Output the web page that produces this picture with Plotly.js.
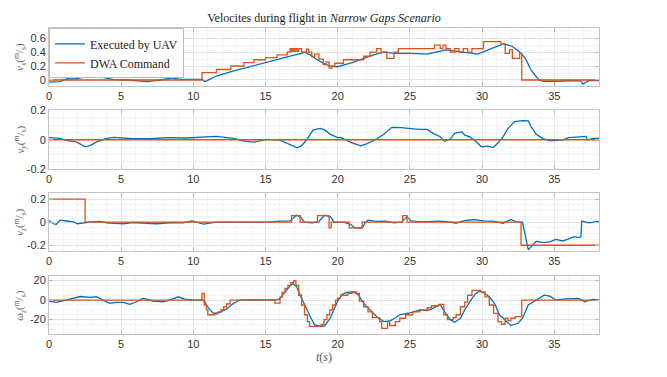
<!DOCTYPE html>
<html>
<head>
<meta charset="utf-8">
<script src="https://cdn.plot.ly/plotly-3.0.1.min.js"></script>
<style>
  html, body { margin: 0; padding: 0; background: #fff; }
  #plot { width: 667px; height: 377px; }
</style>
</head>
<body>
<div id="plot"></div>
<script>
// v_x
var tVxUav = [0, 0.76, 1.2, 1.9, 2.84, 3.2, 3.8, 4.5, 5.4, 6.3, 6.8, 7.7, 8.5, 9.1, 10.0, 10.6, 10.8, 11.6, 12.8, 13.7, 14.2, 15.1, 16.0, 16.7, 17.5, 17.7, 18.1, 18.5, 19.1, 19.5, 20.0, 21.0, 21.8, 22.8, 23.3, 23.9, 25.0, 26.2, 27.5, 28.7, 29.4, 29.7, 30.3, 31.0, 31.5, 32.1, 32.6, 33.0, 33.4, 33.9, 34.2, 35.0, 35.6, 36.5, 36.8, 37.0, 37.4, 38.1];
var vxUav = [-0.03, -0.024, 0.014, 0.02, 0.057, 0.067, 0.033, 0.005, 0, -0.02, -0.024, 0, 0.03, 0.01, 0.014, 0.01, -0.024, 0.057, 0.13, 0.18, 0.21, 0.26, 0.30, 0.34, 0.38, 0.40, 0.36, 0.30, 0.23, 0.20, 0.19, 0.25, 0.31, 0.38, 0.40, 0.38, 0.38, 0.37, 0.43, 0.40, 0.38, 0.37, 0.42, 0.48, 0.52, 0.48, 0.40, 0.31, 0.14, 0.01, -0.02, -0.02, -0.02, -0.01, -0.01, -0.06, -0.01, -0.01];
var tVxCmd = [0, 10.6, 11.6, 12.6, 13.5, 14.2, 15.0, 15.8, 16.5, 16.7, 16.8, 16.9, 17.0, 17.1, 17.2, 17.3, 17.5, 17.85, 18.0, 18.2, 18.4, 18.7, 19.0, 19.2, 19.4, 19.6, 19.8, 20.4, 21.8, 22.25, 22.7, 23.0, 23.4, 23.9, 24.2, 26.7, 27.1, 27.3, 27.5, 27.8, 28.1, 28.4, 28.7, 29.0, 29.3, 30.1, 31.3, 31.6, 31.9, 32.1, 32.6, 32.75, 38.1];
var vxCmd = [0, 0.105, 0.15, 0.2, 0.25, 0.29, 0.32, 0.36, 0.40, 0.45, 0.41, 0.45, 0.41, 0.45, 0.41, 0.45, 0.40, 0.44, 0.40, 0.33, 0.37, 0.30, 0.22, 0.26, 0.17, 0.2, 0.24, 0.29, 0.34, 0.40, 0.45, 0.40, 0.31, 0.40, 0.45, 0.50, 0.45, 0.50, 0.45, 0.40, 0.45, 0.40, 0.45, 0.40, 0.45, 0.55, 0.51, 0.38, 0.43, 0.31, 0.38, 0, 0];

// v_y
var tVyUav = [0, 0.76, 1.2, 1.9, 2.5, 2.84, 3.3, 4.0, 4.5, 5.8, 7.0, 8.15, 9.5, 10.5, 11.6, 12.8, 13.5, 14.2, 15.1, 16.0, 16.5, 17.2, 17.5, 17.85, 18.3, 18.8, 19.1, 19.5, 20.0, 20.2, 20.9, 21.6, 22.0, 22.6, 23.2, 23.75, 24.4, 25.1, 25.6, 26.2, 26.6, 27.1, 27.4, 27.8, 28.1, 28.6, 28.8, 29.15, 29.6, 29.95, 30.4, 30.75, 31.0, 31.45, 31.8, 32.25, 32.8, 33.2, 33.4, 33.75, 34.2, 34.7, 35.6, 36.0, 36.6, 37.2, 37.3, 37.65, 38.1];
var vyUav = [0.014, 0.01, -0.005, -0.015, -0.048, -0.04, -0.015, 0.01, 0.016, 0.007, 0.007, 0.014, 0.012, 0.016, 0.023, 0.009, -0.01, -0.016, 0.002, -0.002, -0.025, -0.055, -0.04, 0, 0.067, 0.078, 0.067, 0.037, 0.014, 0.016, -0.018, -0.041, -0.028, 0, 0.037, 0.085, 0.083, 0.074, 0.071, 0.071, 0.044, 0.021, -0.01, 0.005, 0.044, 0.055, 0.032, 0.02, -0.014, -0.048, -0.043, -0.053, -0.032, 0.02, 0.078, 0.124, 0.131, 0.129, 0.09, 0.037, 0.01, -0.007, 0, 0.014, 0.02, 0.023, -0.002, 0.009, 0.009];
var tVyCmd = [0, 38.1];
var vyCmd = [0, 0];

// v_z
var tVzUav = [0, 0.3, 0.5, 0.76, 1.2, 1.7, 1.96, 2.4, 2.84, 3.5, 4.0, 4.57, 5.15, 5.8, 6.5, 7.46, 8.6, 9.3, 9.9, 10.7, 11.6, 12.8, 13.9, 15.1, 16.0, 16.7, 17.15, 17.4, 17.7, 18.2, 18.65, 19.1, 19.5, 19.75, 20.4, 20.9, 21.2, 21.7, 21.9, 22.1, 22.7, 23.3, 23.9, 24.4, 24.8, 25.1, 25.7, 26.4, 27.1, 27.8, 28.2, 28.7, 29.4, 30.1, 30.75, 31.45, 32.0, 32.4, 32.8, 33.05, 33.2, 33.5, 33.75, 34.2, 34.7, 35.1, 35.6, 35.9, 36.4, 36.7, 36.85, 36.9, 37.4, 38.1];
var vzUav = [0.014, -0.014, -0.02, 0.017, 0.01, 0.003, -0.014, -0.006, 0, 0.006, -0.006, -0.011, -0.014, -0.003, -0.009, -0.014, -0.003, -0.006, 0.011, -0.017, 0, 0, 0.003, 0, 0.009, 0.011, 0.06, 0.046, 0, -0.006, 0, 0.06, 0.046, 0, 0, -0.02, -0.05, -0.05, -0.006, 0.017, 0.006, 0.009, -0.006, 0, 0.046, 0.011, 0.003, 0.003, 0.009, 0, -0.011, 0.011, 0.023, 0.011, 0.009, -0.011, 0.023, 0, 0, -0.15, -0.24, -0.2, -0.166, -0.177, -0.171, -0.149, -0.163, -0.149, -0.126, -0.134, -0.126, 0.009, -0.006, 0.006];
var tVzCmd = [0, 2.5, 16.8, 17.4, 18.6, 19.4, 19.55, 20.8, 21.7, 24.5, 24.8, 32.7, 38.1];
var vzCmd = [0.2, 0, 0.057, 0, 0.057, -0.05, 0, -0.05, 0, 0.057, 0, -0.2, -0.2];

// omega_z
var tWzUav = [0, 0.5, 1.2, 1.9, 2.15, 2.84, 3.3, 3.65, 4.2, 4.7, 5.15, 5.6, 6.07, 6.5, 6.8, 7.2, 7.9, 8.5, 8.96, 9.4, 10.0, 10.6, 10.8, 10.9, 11.15, 11.4, 11.85, 12.3, 12.77, 13.2, 14.15, 15.1, 15.8, 16.0, 16.35, 16.7, 16.9, 17.15, 17.4, 17.7, 18.1, 18.4, 18.8, 19.1, 19.5, 19.75, 20.0, 20.3, 20.6, 21.1, 21.45, 21.8, 22.25, 22.7, 23.2, 23.6, 24.0, 24.3, 25.0, 25.7, 26.2, 26.6, 27.1, 27.4, 27.8, 28.1, 28.5, 28.8, 29.15, 29.5, 29.85, 30.2, 30.5, 30.9, 31.2, 31.7, 32.0, 32.5, 32.8, 33.2, 33.5, 34.0, 34.3, 34.7, 35.1, 35.6, 36.3, 36.7, 37.1, 37.65, 38.1];
var wzUav = [-1, -2.4, 0, 2.4, 3.7, 2.7, 3.4, 0.7, -3.4, -2.4, -2.4, -4.4, -1.7, 1.7, 1, -1, -1.7, 0.7, 3.4, 1, 0, 0.3, -1.7, -5, -10, -13.5, -12.5, -9, -3.4, 0, 0.3, 0.7, 0.3, 1.7, 8.5, 14.6, 17, 13.6, 5, -5, -17, -25.4, -27, -26.3, -18, -9, -1, 5.8, 7.8, 8.5, 5, -3.4, -10, -17, -22, -21.4, -18, -15, -13, -10, -10.8, -8.5, -4.4, -12, -20, -22.7, -18.6, -10, -1.7, 5.8, 9.5, 6.8, 3.4, -4.4, -15, -22, -26, -23.7, -18.6, -5, -2.4, 1.7, 5, 4, 0, 1, 1.7, 1.7, -1.7, 0.7, 0.3];
var tWzCmd = [0, 10.6, 10.75, 10.9, 11.0, 11.5, 11.7, 11.9, 12.1, 12.3, 12.55, 15.65, 16.0, 16.15, 16.35, 16.55, 16.75, 16.95, 17.1, 17.3, 17.5, 17.7, 17.9, 18.05, 18.85, 19.05, 19.25, 19.45, 19.65, 19.85, 20.0, 20.2, 20.7, 21.0, 21.3, 21.5, 21.8, 22.1, 22.4, 22.9, 23.05, 23.45, 23.6, 24.0, 24.3, 24.7, 25.2, 25.7, 26.2, 26.5, 27.0, 27.35, 27.6, 28.0, 28.2, 28.5, 28.8, 29.0, 29.3, 29.9, 30.2, 30.5, 30.8, 31.1, 31.35, 31.6, 31.8, 32.0, 32.3, 32.75, 38.1];
var wzCmd = [0, 7, -5, -10, -15, -14, -12, -10, -7, -4, 0, -3, 3, 8, 12, 15, 18, 20, 15, 5, -5, -15, -22, -27, -25, -20, -15, -10, -5, 0, 2, 5, 6.8, 8.5, 7, -1, -6.8, -12, -18, -22, -29, -22, -26, -22, -18.6, -15, -12, -10, -7.8, -5.8, -4.4, -15, -20, -18, -15, -6.8, -2, 5, 10, 8.5, 3.4, -5, -13.6, -22, -24.7, -18.6, -21, -18.6, -17, 0, 0];

// tick labels
var xTicks = [0, 5, 10, 15, 20, 25, 30, 35];
var xTickText = ['0', '5', '10', '15', '20', '25', '30', '35'];
var vxTicks = [0, 0.2, 0.4, 0.6];
var vxTickText = ['0', '0.2', '0.4', '0.6'];
var vyzTicks = [-0.2, 0, 0.2];
var vyzTickText = ['-0.2', '0', '0.2'];
var wzTicks = [-20, 0, 20];
var wzTickText = ['-20', '0', '20'];

var blue = '#0072BD';
var orange = '#D95319';

function line(x, y, color, name, ax, show, shape) {
    return {
        x: x, y: y, type: 'scatter', mode: 'lines', name: name,
        xaxis: 'x' + ax, yaxis: 'y' + ax, showlegend: show,
        line: { color: color, width: 1.3, shape: shape || 'linear' }
    };
}

var data = [
    line(tVxUav, vxUav, blue, 'Executed by UAV', '', true),
    line(tVxCmd, vxCmd, orange, 'DWA Command', '', true, 'hv'),
    line(tVyUav, vyUav, blue, 'Executed by UAV', '2', false),
    line(tVyCmd, vyCmd, orange, 'DWA Command', '2', false, 'hv'),
    line(tVzUav, vzUav, blue, 'Executed by UAV', '3', false),
    line(tVzCmd, vzCmd, orange, 'DWA Command', '3', false, 'hv'),
    line(tWzUav, wzUav, blue, 'Executed by UAV', '4', false),
    line(tWzCmd, wzCmd, orange, 'DWA Command', '4', false, 'hv')
];

var tickFont = { family: 'Liberation Sans, Arial, sans-serif', size: 11, color: '#333' };
var serif = 'Liberation Serif, Times New Roman, serif';

function xax(anchor) {
    return {
        anchor: anchor, domain: [0, 1], range: [0, 38.1],
        tickvals: xTicks, ticktext: xTickText, tickfont: tickFont,
        ticks: 'inside', ticklen: 4, tickcolor: '#bbb', mirror: 'ticks',
        showline: true, linecolor: '#c4c4c4', linewidth: 1,
        showgrid: true, gridcolor: '#e4e4e4', zeroline: false,
        minor: { dtick: 1, showgrid: true, gridcolor: '#f4f4f4' }
    };
}
function yax(anchor, dom, range, vals, text, minor) {
    return {
        anchor: anchor, domain: dom, range: range,
        tickvals: vals, ticktext: text, tickfont: tickFont,
        ticks: 'inside', ticklen: 4, tickcolor: '#bbb', mirror: 'ticks',
        showline: true, linecolor: '#c4c4c4', linewidth: 1,
        showgrid: true, gridcolor: '#e4e4e4', zeroline: false,
        minor: { dtick: minor, showgrid: true, gridcolor: '#f4f4f4' }
    };
}

var dom1 = [0.7719, 0.9249], dom2 = [0.5517, 0.7069], dom3 = [0.3342, 0.4873], dom4 = [0.1133, 0.2687];

function ylabel(text, dom) {
    return {
        text: text, xref: 'paper', yref: 'paper', x: -0.053, y: (dom[0] + dom[1]) / 2,
        textangle: -90, showarrow: false, xanchor: 'center', yanchor: 'middle',
        font: { family: serif, size: 11, color: '#666' }
    };
}

var xa4 = xax('y4');
xa4.title = { text: '<i>t</i>(<i>s</i>)', font: { family: serif, size: 12, color: '#555' }, standoff: 2 };

var layout = {
    width: 667, height: 377,
    margin: { l: 49, r: 68, t: 0, b: 0 },
    paper_bgcolor: '#fff', plot_bgcolor: '#fff',
    title: {
        text: 'Velocites during flight in <i>Narrow Gaps Scenario</i>',
        font: { family: serif, size: 12, color: '#222' },
        x: 0.5, xref: 'paper', xanchor: 'center', y: 0.952, yref: 'container', yanchor: 'middle'
    },
    xaxis: xax('y'), xaxis2: xax('y2'), xaxis3: xax('y3'), xaxis4: xa4,
    yaxis: yax('x', dom1, [-0.086, 0.74], vxTicks, vxTickText, 0.1),
    yaxis2: yax('x2', dom2, [-0.2, 0.2], vyzTicks, vyzTickText, 0.05),
    yaxis3: yax('x3', dom3, [-0.25, 0.25], vyzTicks, vyzTickText, 0.05),
    yaxis4: yax('x4', dom4, [-35, 25], wzTicks, wzTickText, 5),
    showlegend: true,
    legend: {
        x: 0, y: dom1[1], xref: 'paper', yref: 'paper', xanchor: 'left', yanchor: 'top',
        bgcolor: '#fff', bordercolor: '#bbb', borderwidth: 1,
        font: { family: serif, size: 12, color: '#222' },
        itemwidth: 30, tracegroupgap: 0
    },
    annotations: [
        ylabel('<i>v<sub>x</sub></i>(<sup>m</sup>/<sub>s</sub>)', dom1),
        ylabel('<i>v<sub>y</sub></i>(<sup>m</sup>/<sub>s</sub>)', dom2),
        ylabel('<i>v<sub>z</sub></i>(<sup>m</sup>/<sub>s</sub>)', dom3),
        ylabel('<i>ω<sub>z</sub></i>(<sup>m</sup>/<sub>s</sub>)', dom4)
    ]
};

Plotly.newPlot('plot', data, layout, { displayModeBar: false, staticPlot: true });
</script>
</body>
</html>
